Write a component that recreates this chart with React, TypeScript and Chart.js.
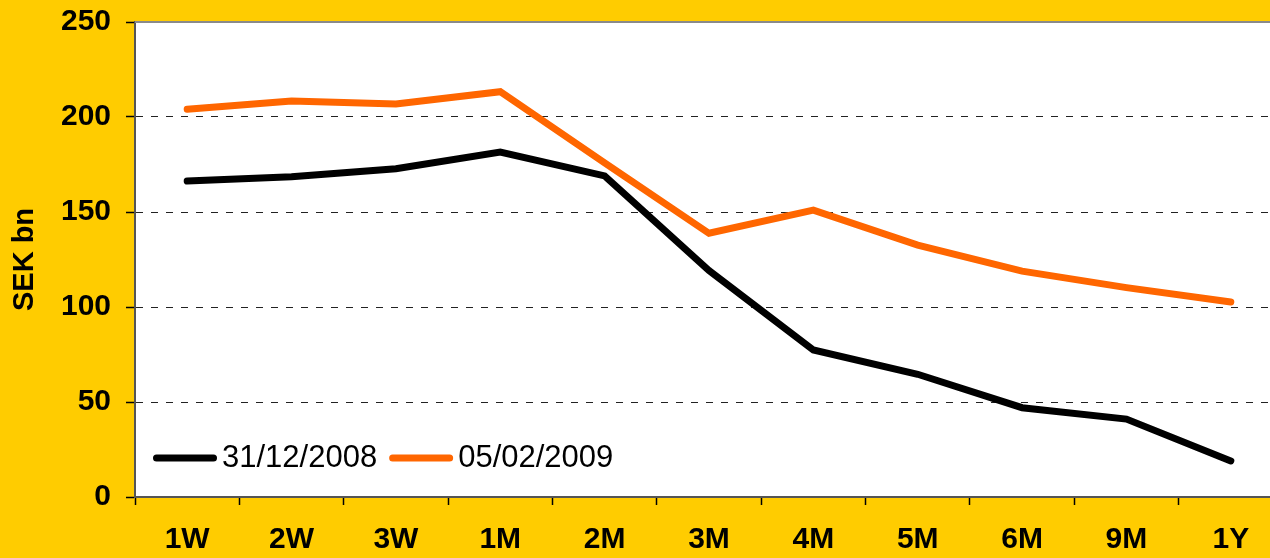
import { useEffect, useRef } from 'react';
import { Chart, registerables } from 'chart.js';

Chart.register(...registerables);

const categories = ['1W', '2W', '3W', '1M', '2M', '3M', '4M', '5M', '6M', '9M', '1Y'];
const series2008 = [166.3, 168.6, 172.8, 181.5, 169, 119.2, 77.4, 64.6, 47, 41, 19];
const series2009 = [204.1, 208.4, 206.8, 213.3, 175.8, 138.8, 151, 132.6, 118.9, 110.2, 102.6];
const seriesLabels = ['31/12/2008', '05/02/2009'];
const seriesColors = ['#000000', '#FF6600'];
const yMin = 0;
const yMax = 250;
const yStep = 50;
const yTitle = 'SEK bn';

const FONT = '"Liberation Sans", Arial, Helvetica, sans-serif';
const YELLOW = '#FFCC00';

const bgPlugin = {
  id: 'bgPlugin',
  beforeDraw(chart: any) {
    const { ctx, chartArea, width, height } = chart;
    ctx.save();
    ctx.fillStyle = YELLOW;
    ctx.fillRect(0, 0, width, height);
    ctx.fillStyle = '#FFFFFF';
    ctx.fillRect(chartArea.left, chartArea.top, chartArea.right - chartArea.left, chartArea.bottom - chartArea.top);
    ctx.restore();
  },
  beforeDatasetsDraw(chart: any) {
    const { ctx, chartArea } = chart;
    ctx.save();
    ctx.strokeStyle = '#8a8a8a';
    ctx.lineWidth = 2;
    ctx.beginPath();
    ctx.moveTo(chartArea.left, chartArea.top);
    ctx.lineTo(chartArea.right, chartArea.top);
    ctx.stroke();
    ctx.restore();
  },
};

const legendPlugin = {
  id: 'insideLegend',
  afterDatasetsDraw(chart: any) {
    const { ctx, chartArea } = chart;
    ctx.save();
    ctx.font = `31px ${FONT}`;
    ctx.textBaseline = 'middle';
    ctx.textAlign = 'left';
    let x = chartArea.left + 18;
    const y = chartArea.bottom - 39;
    chart.data.datasets.forEach((ds: any) => {
      ctx.strokeStyle = ds.borderColor;
      ctx.lineWidth = 7;
      ctx.lineCap = 'round';
      ctx.beginPath();
      ctx.moveTo(x + 3.5, y);
      ctx.lineTo(x + 64 - 3.5, y);
      ctx.stroke();
      ctx.fillStyle = '#000';
      const tx = x + 69;
      ctx.fillText(ds.label, tx, y);
      x = tx + ctx.measureText(ds.label).width + 12;
    });
    ctx.restore();
  },
};

export default function App() {
  const ref = useRef<HTMLCanvasElement | null>(null);

  useEffect(() => {
    if (!ref.current) return;
    const datasets = [series2008, series2009].map((d, i) => ({
      label: seriesLabels[i],
      data: d,
      borderColor: seriesColors[i],
      backgroundColor: seriesColors[i],
      borderWidth: 7,
      borderCapStyle: 'round' as const,
      borderJoinStyle: 'miter' as const,
      pointRadius: 0,
      pointHoverRadius: 0,
      tension: 0,
      fill: false,
    }));
    const chart = new Chart(ref.current, {
      type: 'line',
      data: { labels: categories, datasets },
      options: {
        animation: false,
        responsive: false,
        devicePixelRatio: 1,
        layout: { padding: { top: 22, right: 7, left: 0, bottom: 0 } },
        plugins: {
          legend: { display: false },
          tooltip: { enabled: false },
        },
        scales: {
          x: {
            offset: true,
            grid: {
              offset: true,
              drawOnChartArea: false,
              drawTicks: true,
              tickLength: 8,
              tickColor: '#000',
              tickWidth: 1.5,
            },
            border: { display: true, color: '#555', width: 2 },
            ticks: {
              color: '#000',
              font: { family: FONT, size: 30, weight: 'bold' },
              padding: 17,
              maxRotation: 0,
              autoSkip: false,
            },
            afterFit(scale: any) {
              scale.height = 61;
              scale.paddingLeft = 0;
              scale.paddingRight = 0;
            },
          },
          y: {
            min: yMin,
            max: yMax,
            ticks: {
              stepSize: yStep,
              color: '#000',
              font: { family: FONT, size: 30, weight: 'bold' },
              padding: 15,
            },
            grid: {
              color: (c: any) =>
                c.tick && (c.tick.value === yMin || c.tick.value === yMax) ? 'rgba(0,0,0,0)' : '#222',
              lineWidth: 1,
              tickLength: 9,
              tickColor: '#000',
              tickWidth: 1.5,
              tickBorderDash: [],
            },
            border: { display: true, color: '#555', width: 2, dash: [7, 8] },
            title: {
              display: true,
              text: yTitle,
              color: '#000',
              font: { family: FONT, size: 29, weight: 'bold' },
              padding: { top: 8, bottom: 0 },
            },
            afterFit(scale: any) {
              scale.width = 135;
              scale.paddingTop = 0;
              scale.paddingBottom = 0;
            },
          },
        },
      },
      plugins: [bgPlugin, legendPlugin],
    });
    return () => chart.destroy();
  }, []);

  return (
    <div
      style={{
        position: 'fixed',
        left: 0,
        top: 0,
        width: 1270,
        height: 558,
        overflow: 'hidden',
        background: YELLOW,
      }}
    >
      <canvas ref={ref} width={1290} height={558} style={{ display: 'block', width: 1290, height: 558 }} />
    </div>
  );
}
